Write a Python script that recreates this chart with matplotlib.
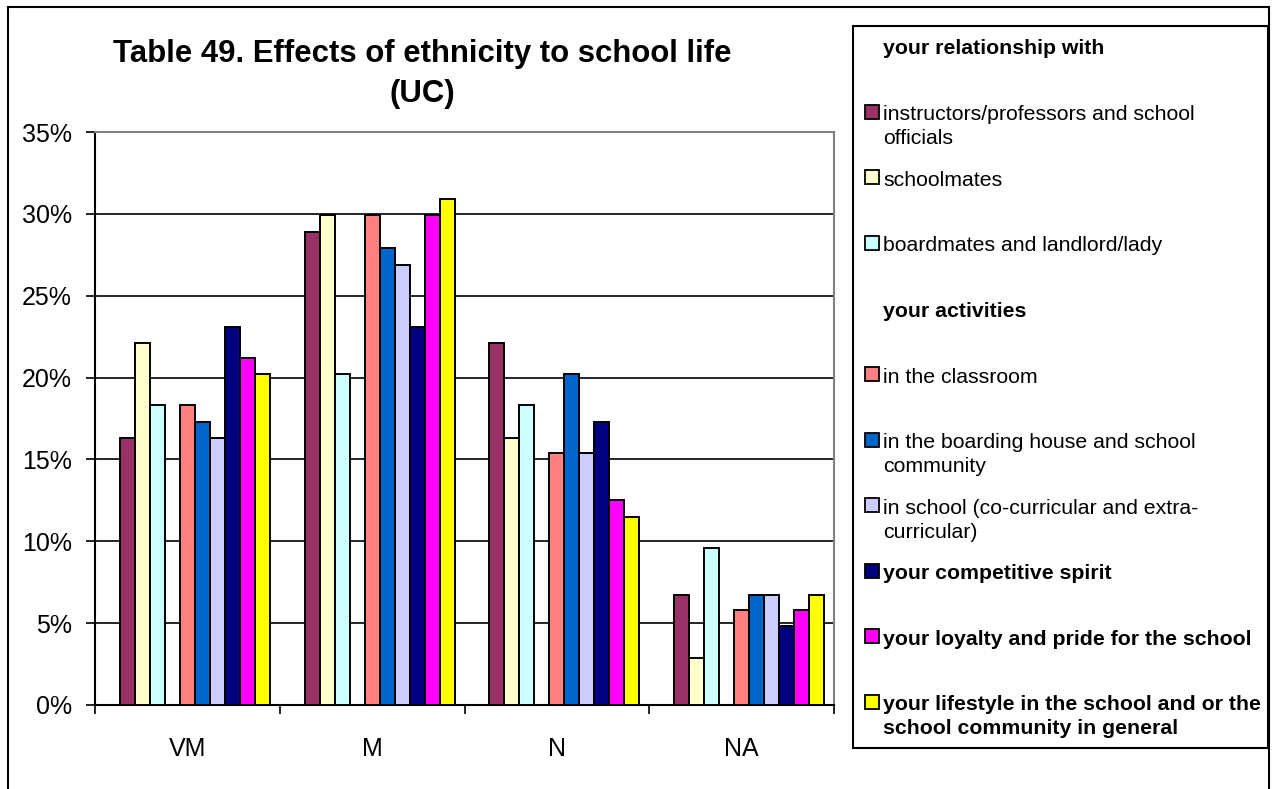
import matplotlib
matplotlib.use('Agg')
import matplotlib.pyplot as plt
from matplotlib.patches import Rectangle
import numpy as np

plt.rcParams['font.family'] = ['Liberation Sans', 'DejaVu Sans']

# --- data (percent) ---
categories = ['VM', 'M', 'N', 'NA']
instructors = [16.3, 28.9, 22.1, 6.7]
schoolmates = [22.1, 29.9, 16.3, 2.9]
boardmates = [18.3, 20.2, 18.3, 9.6]
classroom = [18.3, 29.9, 15.4, 5.8]
boarding = [17.3, 27.9, 20.2, 6.7]
in_school = [16.3, 26.9, 15.4, 6.7]
competitive = [23.1, 23.1, 17.3, 4.8]
loyalty = [21.2, 29.9, 12.5, 5.8]
lifestyle = [20.2, 30.9, 11.5, 6.7]

# header rows of the legend are empty series (they keep a slot in each group)
series_labels = [
    'your relationship with',
    'instructors/professors and school\nofficials',
    'schoolmates',
    'boardmates and landlord/lady',
    'your activities',
    'in the classroom',
    'in the boarding house and school\ncommunity',
    'in school (co-curricular and extra-\ncurricular)',
    'your competitive spirit',
    'your loyalty and pride for the school',
    'your lifestyle in the school and or the\nschool community in general',
]
series_values = [None, instructors, schoolmates, boardmates, None,
                 classroom, boarding, in_school, competitive, loyalty, lifestyle]
series_colors = [None, '#993366', '#FFFFCC', '#CCFFFF', None,
                 '#FF8080', '#0066CC', '#CCCCFF', '#000080', '#FF00FF', '#FFFF00']
series_bold = [True, False, False, False, True, False, False, False, True, True, True]

W, H = 1274, 789
fig = plt.figure(figsize=(W / 100, H / 100), dpi=100)

def fx(px):
    return px / W

def fy(py):
    return 1 - py / H

# outer chart frame
fig.patches.append(Rectangle((fx(8), fy(800)), fx(1269) - fx(8), fy(7) - fy(800),
                             transform=fig.transFigure, fill=False,
                             edgecolor='black', lw=1.5, clip_on=False))

ax = fig.add_axes([fx(95), fy(705), fx(834) - fx(95), fy(132) - fy(705)])

x = np.arange(len(categories))
w = 1 / 12.3
for i, vals in enumerate(series_values):
    if vals is None:
        continue
    ax.bar(x + (i - 5) * w, vals, w, color=series_colors[i],
           edgecolor='black', linewidth=1.4, zorder=3)

ax.set_xlim(-0.5, len(categories) - 0.5)
ax.set_ylim(0, 35)
ax.set_yticks(range(0, 36, 5))
ax.set_yticklabels([f'{v}%' for v in range(0, 36, 5)])
ax.yaxis.grid(True, color='black', linewidth=1.2)
ax.set_axisbelow(True)

ax.set_xticks(x)
ax.set_xticklabels(categories)
ax.set_xticks(np.arange(-0.5, len(categories)), minor=True)
ax.tick_params(axis='x', which='major', length=0, pad=23, labelsize=18)
ax.tick_params(axis='x', which='minor', direction='out', length=6.5, width=1.2)
ax.tick_params(axis='y', direction='out', length=6.5, width=1.2, pad=10, labelsize=18)

for side in ['left', 'bottom']:
    ax.spines[side].set_color('black')
    ax.spines[side].set_linewidth(1.5)
for side in ['top', 'right']:
    ax.spines[side].set_color('#808080')
    ax.spines[side].set_linewidth(1.5)

# title
fig.text(fx(422), fy(62), 'Table 49. Effects of ethnicity to school life',
         ha='center', va='baseline', fontsize=22.4, fontweight='bold')
fig.text(fx(422), fy(102), '(UC)',
         ha='center', va='baseline', fontsize=22.4, fontweight='bold')

# legend box
fig.patches.append(Rectangle((fx(852.7), fy(748)), fx(1268) - fx(852.7), fy(25.7) - fy(748),
                             transform=fig.transFigure, facecolor='white',
                             edgecolor='black', lw=1.5))
y0, step, line_h = 49, 65.6, 24
for i, label in enumerate(series_labels):
    yc = y0 + i * step
    if series_colors[i] is not None:
        fig.patches.append(Rectangle((fx(865), fy(yc - 3 + 7)), fx(14), 14 / H,
                                     transform=fig.transFigure,
                                     facecolor=series_colors[i], edgecolor='black', lw=1.3))
    for k, line in enumerate(label.split('\n')):
        fig.text(fx(883), fy(yc + k * line_h), line, ha='left', va='center',
                 fontsize=15.3, fontweight='bold' if series_bold[i] else 'normal')

fig.savefig('out.png', dpi=100, facecolor='white')
